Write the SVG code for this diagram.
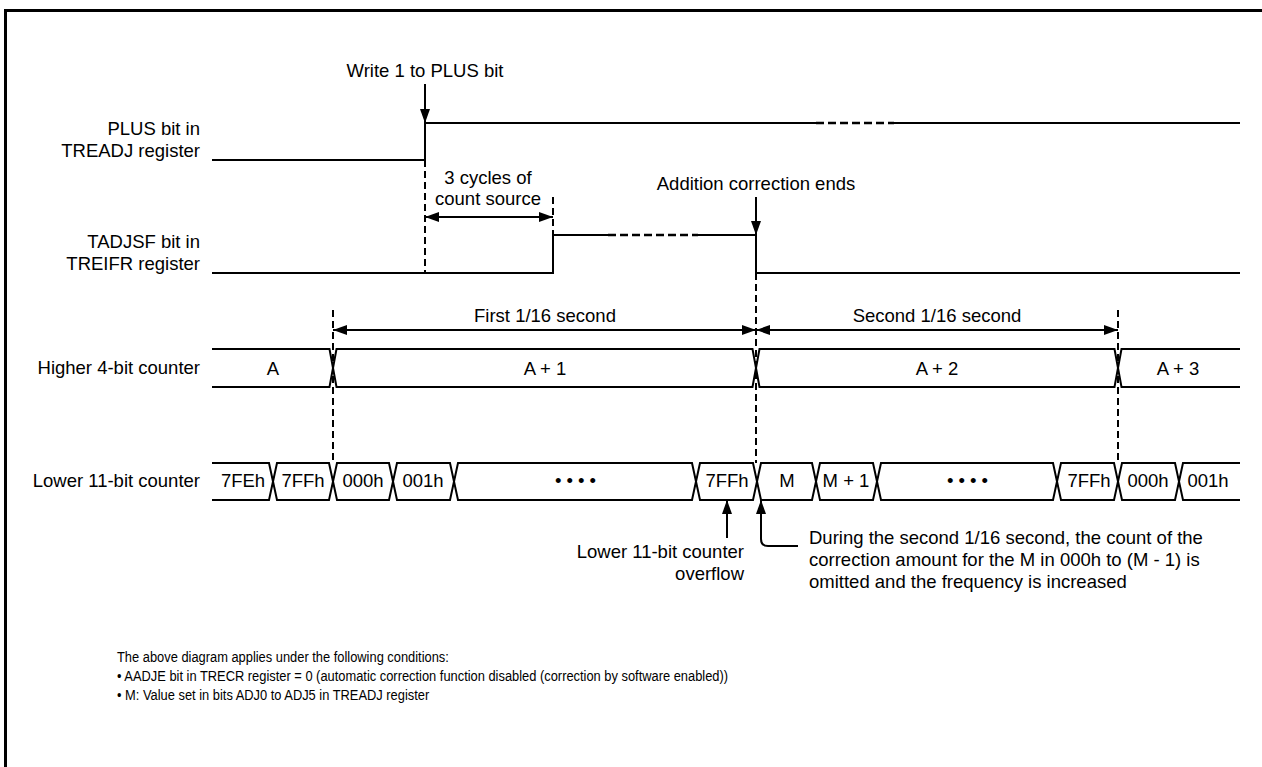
<svg xmlns="http://www.w3.org/2000/svg" width="1262" height="767" viewBox="0 0 1262 767">
<style>
text{font-family:"Liberation Sans",Arial,sans-serif;font-size:18.5px;fill:#000}
.e{text-anchor:end}
.m{text-anchor:middle}
.note{font-size:14px}
.sig{fill:none;stroke:#000;stroke-width:2}
.dsh{fill:none;stroke:#000;stroke-width:2.5;stroke-dasharray:8 4}
.vd{fill:none;stroke:#000;stroke-width:2;stroke-dasharray:7 4}
.arr{fill:none;stroke:#000;stroke-width:2}
.dots{letter-spacing:5px}
</style>
<defs>
<marker id="ah" viewBox="0 0 14 10" refX="14" refY="5" markerWidth="14" markerHeight="10" markerUnits="userSpaceOnUse" orient="auto-start-reverse">
<path d="M0,0 L14,5 L0,10 z" fill="#000"/>
</marker>
</defs>
<rect width="1262" height="767" fill="#fff"/>
<path d="M5.5,767 V10.5 H1262" fill="none" stroke="#000" stroke-width="3"/>

<g id="plus">
<text class="e" x="200" y="135">PLUS bit in</text>
<text class="e" x="200" y="157">TREADJ register</text>
<path class="sig" d="M212,160 H425 V123 H816 M894,123 H1240"/>
<path class="dsh" d="M816,123 H894"/>
</g>

<g id="tadjsf">
<text class="e" x="200" y="248">TADJSF bit in</text>
<text class="e" x="200" y="270">TREIFR register</text>
<path class="sig" d="M212,273 H553 V235 H608 M698,235 H756 V273 H1240"/>
<path class="dsh" d="M608,235 H698"/>
</g>

<g id="higher">
<text class="e" x="200" y="374">Higher 4-bit counter</text>
<path class="sig" d="M212,349 H329.5 L336.5,387 H752.5 L759.5,349 H1114.5 L1121.5,387 H1240"/>
<path class="sig" d="M212,387 H329.5 L336.5,349 H752.5 L759.5,387 H1114.5 L1121.5,349 H1240"/>
<text class="m" x="273" y="375">A</text>
<text class="m" x="545" y="375">A + 1</text>
<text class="m" x="937" y="375">A + 2</text>
<text class="m" x="1178" y="375">A + 3</text>
</g>

<g id="lower">
<text class="e" x="200" y="487">Lower 11-bit counter</text>
<path class="sig" d="M212,463 H269 L277,500 H329 L337,463 H389 L397,500 H450 L458,463 H692 L700,500 H753 L761,463 H812 L820,500 H873 L881,463 H1053 L1061,500 H1114 L1122,463 H1175 L1183,500 H1240"/>
<path class="sig" d="M212,500 H269 L277,463 H329 L337,500 H389 L397,463 H450 L458,500 H692 L700,463 H753 L761,500 H812 L820,463 H873 L881,500 H1053 L1061,463 H1114 L1122,500 H1175 L1183,463 H1240"/>
<text class="m" x="243" y="487">7FEh</text>
<text class="m" x="303" y="487">7FFh</text>
<text class="m" x="363" y="487">000h</text>
<text class="m" x="423" y="487">001h</text>
<text class="m dots" x="578" y="487">••••</text>
<text class="m" x="727" y="487">7FFh</text>
<text class="m" x="787" y="487">M</text>
<text class="m" x="846" y="487">M + 1</text>
<text class="m dots" x="970" y="487">••••</text>
<text class="m" x="1089" y="487">7FFh</text>
<text class="m" x="1148" y="487">000h</text>
<text class="m" x="1208" y="487">001h</text>
</g>

<g id="write-label">
<text class="m" x="425" y="77">Write 1 to PLUS bit</text>
</g>
<g id="cycles-label">
<text class="m" x="488" y="184">3 cycles of</text>
<text class="m" x="488" y="205">count source</text>
</g>
<g id="addition-label">
<text class="m" x="756" y="190">Addition correction ends</text>
</g>
<g id="first-label">
<text class="m" x="545" y="322">First 1/16 second</text>
</g>
<g id="second-label">
<text class="m" x="937" y="322">Second 1/16 second</text>
</g>
<g id="overflow-label">
<text class="e" x="744" y="558">Lower 11-bit counter</text>
<text class="e" x="744" y="580">overflow</text>
</g>
<g id="during-label">
<text x="809" y="544">During the second 1/16 second, the count of the</text>
<text x="809" y="566">correction amount for the M in 000h to (M - 1) is</text>
<text x="809" y="588">omitted and the frequency is increased</text>
</g>

<g id="connectors">
<path class="arr" d="M425,84 V123" marker-end="url(#ah)"/>
<path class="vd" d="M425,160 V273"/>
<path class="vd" d="M553,197 V235"/>
<path class="arr" d="M425,217 H553" marker-start="url(#ah)" marker-end="url(#ah)"/>
<path class="arr" d="M756,197 V235" marker-end="url(#ah)"/>
<path class="vd" d="M756,273 V463"/>
<path class="vd" d="M333,310 V463"/>
<path class="vd" d="M1118,310 V463"/>
<path class="arr" d="M333,330 H756" marker-start="url(#ah)" marker-end="url(#ah)"/>
<path class="arr" d="M756,330 H1118" marker-start="url(#ah)" marker-end="url(#ah)"/>
<path class="arr" d="M727,538 V500" marker-end="url(#ah)"/>
<path class="arr" d="M798,546 H768 Q761,546 761,539 V500" marker-end="url(#ah)"/>
</g>

<g id="notes">
<text class="note" transform="translate(117,662) scale(0.92,1)">The above diagram applies under the following conditions:</text>
<text class="note" transform="translate(117,681) scale(0.92,1)">• AADJE bit in TRECR register = 0 (automatic correction function disabled (correction by software enabled))</text>
<text class="note" transform="translate(117,700) scale(0.92,1)">• M: Value set in bits ADJ0 to ADJ5 in TREADJ register</text>
</g>
</svg>
